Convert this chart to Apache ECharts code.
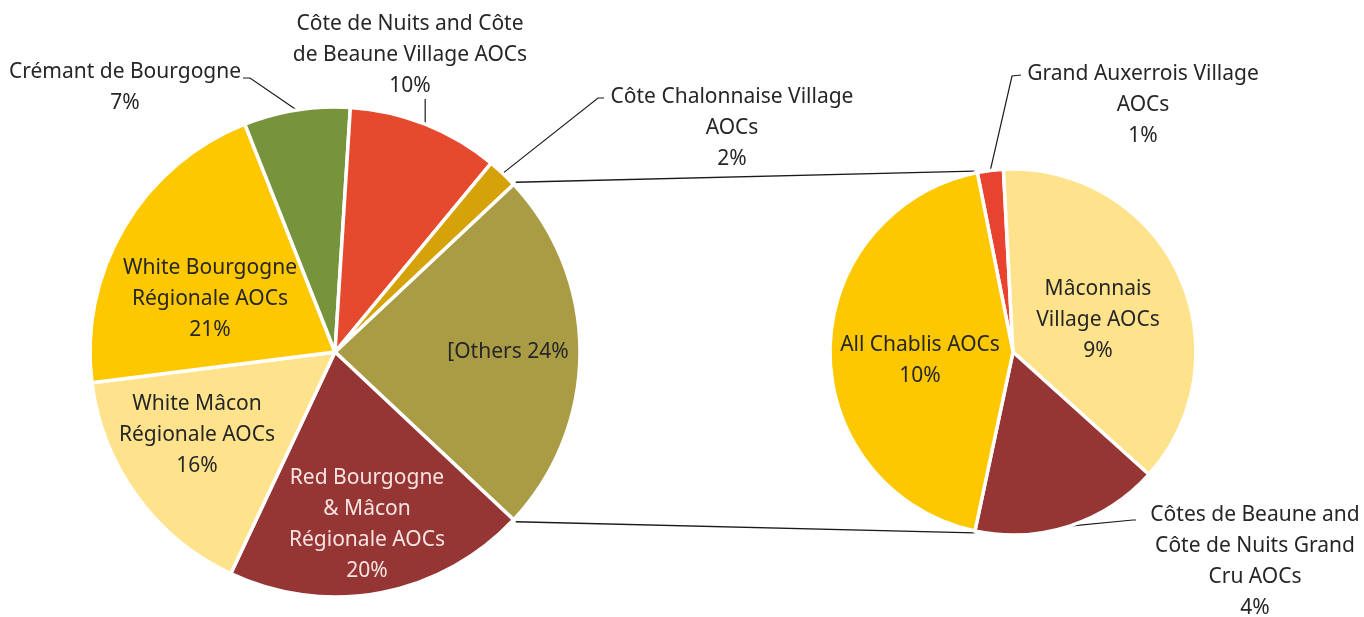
<!DOCTYPE html>
<html>
<head>
<meta charset="utf-8">
<script src="https://cdn.jsdelivr.net/npm/echarts@6/dist/echarts.min.js"></script>
<style>
  html, body { margin: 0; padding: 0; background: #ffffff; }
  #chart { width: 1364px; height: 617px; }
</style>
</head>
<body>
<div id="chart"></div>
<script>
// ---- Data ----
// Main pie, clockwise starting from the "Others" slice
const mainNames = [
  '[Others',
  'Red Bourgogne\n& Mâcon\nRégionale AOCs',
  'White Mâcon\nRégionale AOCs',
  'White Bourgogne\nRégionale AOCs',
  'Crémant de Bourgogne',
  'Côte de Nuits and Côte\nde Beaune Village AOCs',
  'Côte Chalonnaise Village\nAOCs'
];
const mainValues = [24, 20, 16, 21, 7, 10, 2];
const mainColors = ['#A99C45', '#963634', '#FEE38C', '#FDC800', '#77933C', '#E64A2E', '#D6A20A'];

// Secondary pie ("Others" breakdown), clockwise from the thin top slice
const secNames = [
  'Grand Auxerrois Village\nAOCs',
  'Mâconnais\nVillage AOCs',
  'Côtes de Beaune and\nCôte de Nuits Grand\nCru AOCs',
  'All Chablis AOCs'
];
const secValues = [0.55, 9, 4, 10.45];
const secColors = ['#E8432F', '#FEE38C', '#963634', '#FDC800'];

// ---- Layout (styling only) ----
const FONT = 'Noto Sans';
const TEXT = '#262626';
const mainCenter = [335, 352], mainR = 245, mainStart = 43.2;
const secCenter = [1013, 352], secR = 183, secStart = 101.25;

const mainLabelPos = [
  { x: 508, y: 352 },
  { x: 367, y: 525, color: '#F6E4E2' },
  { x: 197, y: 435 },
  { x: 210, y: 299 },
  { x: 125, y: 88, bend: [250, 78], end: [243, 78] },
  { x: 410, y: 55.5, vertical: 99 },
  { x: 732, y: 128.5, bend: [598, 98], end: [604, 98] }
];
const secLabelPos = [
  { x: 1143, y: 105.5, bend: [1012, 76], end: [1021, 75] },
  { x: 1098, y: 320 },
  { x: 1255, y: 562, bend: [1133, 520], end: [1136, 520] },
  { x: 920, y: 361 }
];

function pct(v) { return Math.round(v) + '%'; }

function buildData(names, values, colors, pos) {
  return names.map((n, i) => ({
    name: n,
    value: values[i],
    itemStyle: { color: colors[i] },
    label: {
      position: pos[i].bend || pos[i].vertical ? 'outside' : 'inside',
      color: pos[i].color || TEXT
    },
    labelLine: { show: !!(pos[i].bend || pos[i].vertical) }
  }));
}

function makeLayout(pos) {
  return function (params) {
    const p = pos[params.dataIndex];
    const out = { x: p.x, y: p.y, align: 'center', verticalAlign: 'middle' };
    if (params.labelLinePoints && (p.bend || p.vertical)) {
      const s = params.labelLinePoints[0];
      if (p.vertical) {
        out.labelLinePoints = [s, [s[0], p.vertical], [s[0], p.vertical]];
      } else {
        out.labelLinePoints = [s, p.bend, p.end];
      }
    }
    return out;
  };
}

const labelBase = {
  show: true,
  fontFamily: FONT,
  fontSize: 21,
  lineHeight: 31,
  align: 'center'
};

function connectorLines() {
  const toRad = Math.PI / 180;
  const pt = (c, r, a) => [c[0] + r * Math.cos(a * toRad), c[1] - r * Math.sin(a * toRad)];
  const othersSpan = mainValues[0] / mainValues.reduce((a, b) => a + b, 0) * 360;
  const a1 = mainStart, a2 = mainStart - othersSpan;
  const p1 = pt(mainCenter, mainR + 3, a1);
  const p2 = pt(mainCenter, mainR + 3, a2);
  const q1 = pt(secCenter, secR + 2, 102);
  const q2 = pt(secCenter, secR + 2, -102);
  const style = { stroke: '#1a1a1a', lineWidth: 1.3 };
  return [
    { type: 'line', shape: { x1: p1[0], y1: p1[1], x2: q1[0], y2: q1[1] }, style: style, silent: true },
    { type: 'line', shape: { x1: p2[0], y1: p2[1], x2: q2[0], y2: q2[1] }, style: style, silent: true }
  ];
}

const chart = echarts.init(document.getElementById('chart'), null, { renderer: 'canvas' });
chart.setOption({
  backgroundColor: '#ffffff',
  animation: false,
  graphic: connectorLines(),
  series: [
    {
      type: 'pie',
      center: mainCenter,
      radius: mainR,
      startAngle: mainStart,
      clockwise: true,
      avoidLabelOverlap: false,
      itemStyle: { borderColor: '#ffffff', borderWidth: 3.5 },
      label: Object.assign({}, labelBase, {
        formatter: p => p.dataIndex === 0 ? p.name + ' ' + pct(p.value) : p.name + '\n' + pct(p.value)
      }),
      labelLine: { show: true, length: 10, length2: 10, lineStyle: { color: '#1a1a1a', width: 1.2 } },
      labelLayout: makeLayout(mainLabelPos),
      emphasis: { disabled: true },
      data: buildData(mainNames, mainValues, mainColors, mainLabelPos)
    },
    {
      type: 'pie',
      center: secCenter,
      radius: secR,
      startAngle: secStart,
      clockwise: true,
      avoidLabelOverlap: false,
      itemStyle: { borderColor: '#ffffff', borderWidth: 3.5 },
      label: Object.assign({}, labelBase, {
        formatter: p => p.name + '\n' + pct(p.value)
      }),
      labelLine: { show: true, length: 10, length2: 10, lineStyle: { color: '#1a1a1a', width: 1.2 } },
      labelLayout: makeLayout(secLabelPos),
      emphasis: { disabled: true },
      data: buildData(secNames, secValues, secColors, secLabelPos)
    }
  ]
});
</script>
</body>
</html>
